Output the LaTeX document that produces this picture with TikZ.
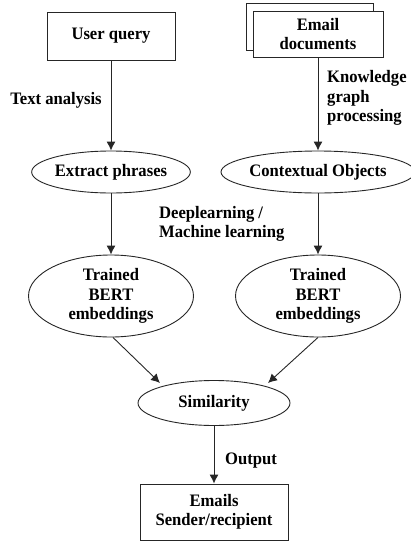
\documentclass[tikz,border=0pt]{standalone}
\usepackage{fontspec}
\setmainfont[FakeStretch=0.95]{Liberation Serif}
\usetikzlibrary{shapes.geometric,arrows.meta}
\begin{document}
\begin{tikzpicture}[x=1pt,y=-1pt,
  font=\fontsize{17.5}{19.5}\selectfont\bfseries,
  line/.style={draw=black!85,line width=0.9pt},
  arr/.style={line,-{Latex[length=9pt,width=9pt]}},
  boxnode/.style={line,rectangle,fill=white,align=center,inner sep=0pt},
  ell/.style={line,ellipse,align=center,inner sep=0pt},
  lbl/.style={align=left,inner sep=0pt}]
\useasboundingbox (0,0) rectangle (411,544);
\node[boxnode,minimum width=128pt,minimum height=48pt] (uq) at (111,36) {User query};
\node[boxnode,minimum width=127pt,minimum height=47pt] (edback) at (309.5,26.5) {};
\node[boxnode,minimum width=130pt,minimum height=46pt] (ed) at (318,34) {Email\\documents};
\node[ell,minimum width=150pt,minimum height=42pt] (ep) at (111,172) {Extract phrases};
\node[ell,minimum width=156pt,minimum height=42pt] (co) at (318,172) {Contextual Objects};
\node[ell,minimum width=165pt,minimum height=82pt] (tb1) at (111,296) {Trained\\BERT\\embeddings};
\node[ell,minimum width=165pt,minimum height=82pt] (tb2) at (318,296) {Trained\\BERT\\embeddings};
\node[ell,minimum width=152pt,minimum height=45pt] (sim) at (214,403) {Similarity};
\node[boxnode,minimum width=148pt,minimum height=56pt] (em) at (214,512) {Emails\\Sender/recipient};
\node[lbl] (l1) at (56,100) {Text analysis};
\node[lbl,anchor=west] (l2) at (327,98) {Knowledge\\graph\\processing};
\node[lbl,anchor=west] (l3) at (159,224) {Deeplearning /\\Machine learning};
\node[lbl,anchor=west] (l4) at (225,461) {Output};
\draw[arr] (uq) -- (ep);
\draw[arr] (ed) -- (co);
\draw[arr] (ep) -- (tb1);
\draw[arr] (co) -- (tb2);
\draw[arr] (tb1.south) ++(2,0) coordinate (a1) -- (160,383);
\draw[arr] (tb2.south) -- (268,383);
\draw[arr] (sim) -- (em);
\end{tikzpicture}
\end{document}
